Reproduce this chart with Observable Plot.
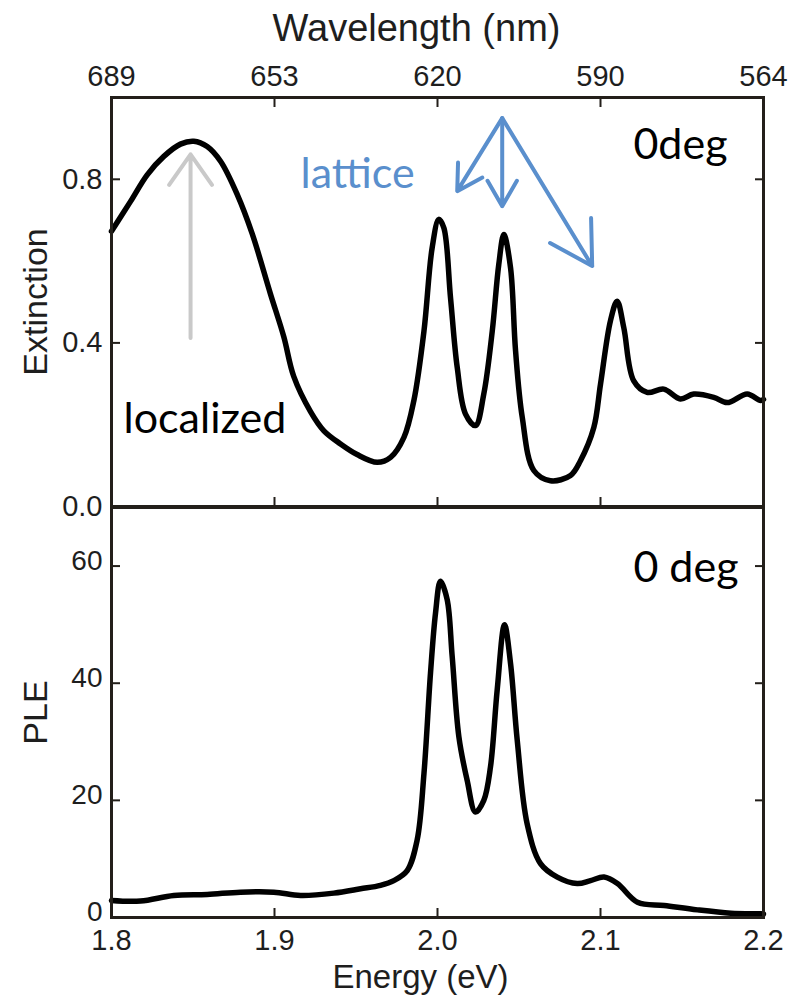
<!DOCTYPE html>
<html>
<head>
<meta charset="utf-8">
<script src="https://cdn.jsdelivr.net/npm/d3@7"></script>
<script src="https://cdn.jsdelivr.net/npm/@observablehq/plot@0.6"></script>
<style>
  html, body { margin: 0; padding: 0; background: #fff; }
  #wrap { position: relative; width: 794px; height: 998px; overflow: hidden; }
  #wrap svg { position: absolute; left: 0; overflow: visible; background: transparent; }
</style>
</head>
<body>
<div id="wrap"></div>
<script>
// ---------- data ----------
const energyTicks = [1.8, 1.9, 2.0, 2.1, 2.2];
const wavelengthLabels = ["689", "653", "620", "590", "564"];
const extinctionTicks = [0, 0.4, 0.8];
const pleTicks = [0, 20, 40, 60];

const extEnergy = [1.800, 1.8117, 1.8219, 1.8321, 1.8423, 1.8505, 1.8587, 1.8669, 1.8771, 1.8863, 1.8975, 1.9057, 1.9118, 1.9221, 1.9303, 1.9405, 1.9507, 1.963, 1.9712, 1.9794, 1.9855, 1.9917, 1.9967, 2.0008, 2.0039, 2.008, 2.0121, 2.0172, 2.0233, 2.0284, 2.0336, 2.0376, 2.0407, 2.0448, 2.0479, 2.052, 2.0591, 2.0693, 2.0816, 2.0877, 2.0959, 2.1, 2.1061, 2.1102, 2.1143, 2.1204, 2.1286, 2.1388, 2.149, 2.1572, 2.1695, 2.1777, 2.19, 2.1982, 2.2];
const extValue = [0.673, 0.746, 0.811, 0.856, 0.886, 0.893, 0.880, 0.844, 0.763, 0.667, 0.52, 0.415, 0.318, 0.232, 0.185, 0.153, 0.127, 0.108, 0.120, 0.169, 0.259, 0.429, 0.632, 0.702, 0.681, 0.51, 0.34, 0.226, 0.198, 0.275, 0.429, 0.592, 0.665, 0.584, 0.380, 0.218, 0.088, 0.063, 0.076, 0.112, 0.193, 0.299, 0.454, 0.502, 0.437, 0.307, 0.279, 0.287, 0.263, 0.275, 0.267, 0.254, 0.275, 0.259, 0.262];

const pleEnergy = [1.800, 1.8178, 1.8382, 1.8587, 1.8791, 1.8996, 1.916, 1.9364, 1.9528, 1.965, 1.9732, 1.9814, 1.9875, 1.9917, 1.9957, 1.9988, 2.0018, 2.0059, 2.009, 2.0131, 2.0182, 2.0233, 2.0284, 2.0325, 2.0366, 2.0411, 2.0448, 2.0489, 2.055, 2.0632, 2.0735, 2.0857, 2.0939, 2.1022, 2.1104, 2.1227, 2.1391, 2.1595, 2.18, 2.1984, 2.2];
const pleValue = [2.9, 2.8, 3.77, 3.94, 4.33, 4.33, 3.77, 4.16, 4.9, 5.5, 6.3, 8.0, 13.2, 24.6, 41.7, 52.0, 57.4, 54.3, 44.6, 30.9, 23.4, 18.0, 20.0, 25.7, 38.8, 50.0, 43.4, 30.3, 16.0, 9.2, 6.9, 5.8, 6.3, 6.9, 5.8, 2.6, 2.05, 1.3, 0.74, 0.63, 0.6];

// annotations (data coordinates, text baseline)
const topLabels = [
  {x: 2.1202, y: 0.849, text: "0deg", color: "#000"},
  {x: 1.8074, y: 0.180, text: "localized", color: "#000"},
  {x: 1.9160, y: 0.778, text: "lattice", color: "#5a8fcd"}
];
const bottomLabels = [{x: 2.1202, y: 57.3, text: "0 deg"}];
const grayArrow = [{x1: 1.8485, y1: 0.412, x2: 1.8485, y2: 0.861}];
const blueArrows = [
  {x1: 2.0397, y1: 0.9495, x2: 2.0121, y2: 0.771},
  {x1: 2.0397, y1: 0.9495, x2: 2.0397, y2: 0.734},
  {x1: 2.0397, y1: 0.9495, x2: 2.0949, y2: 0.588}
];

const extData = extEnergy.map((e, i) => ({e, v: extValue[i]}));
const pleData = pleEnergy.map((e, i) => ({e, v: pleValue[i]}));

const tickFont = "'Liberation Sans', Arial, Helvetica, sans-serif";
const annFont = "Lato, 'Open Sans', sans-serif";
const frameColor = "#231f1a";
const textColor = "#1e1e1e";
const wlFormat = d => wavelengthLabels[energyTicks.findIndex(t => Math.abs(t - d) < 1e-9)];

const W = 794, ML = 111, MR = 31;

const topPlot = Plot.plot({
  width: W, height: 506,
  marginTop: 97, marginBottom: 0, marginLeft: ML, marginRight: MR,
  x: {domain: [1.8, 2.2]},
  y: {domain: [0, 1]},
  style: {fontFamily: tickFont, background: "transparent", overflow: "visible"},
  marks: [
    Plot.axisX({anchor: "top", ticks: energyTicks, tickSize: 0, tickPadding: 12, tickFormat: wlFormat, fontSize: 29, label: null, fill: textColor}),
    Plot.axisX({anchor: "top", ticks: energyTicks, tickSize: -9, text: null, label: null, stroke: frameColor, strokeWidth: 2}),
    Plot.axisX({anchor: "bottom", ticks: energyTicks, tickSize: -9, text: null, label: null, stroke: frameColor, strokeWidth: 2}),
    Plot.axisY({anchor: "left", ticks: extinctionTicks, tickSize: 0, tickPadding: 9, tickFormat: ".1f", fontSize: 29, label: null, fill: textColor}),
    Plot.axisY({anchor: "left", ticks: extinctionTicks, tickSize: -9, text: null, label: null, stroke: frameColor, strokeWidth: 2}),
    Plot.axisY({anchor: "right", ticks: extinctionTicks, tickSize: -9, text: null, label: null, stroke: frameColor, strokeWidth: 2}),
    Plot.text(["Wavelength (nm)"], {frameAnchor: "top", dx: -21, dy: -57, fontSize: 38, fill: textColor, lineAnchor: "bottom"}),
    Plot.text(["Extinction"], {frameAnchor: "left", dx: -75, rotate: -90, fontSize: 34, fill: textColor, textAnchor: "middle", lineAnchor: "middle"}),
    Plot.arrow(grayArrow, {x1: "x1", y1: "y1", x2: "x2", y2: "y2", stroke: "#c9c9c9", strokeWidth: 4, headLength: 14, headAngle: 70}),
    Plot.arrow(blueArrows, {x1: "x1", y1: "y1", x2: "x2", y2: "y2", stroke: "#5a8fcd", strokeWidth: 4, headLength: 18}),
    Plot.line(extData, {x: "e", y: "v", stroke: "#000", strokeWidth: 5.5, strokeLinejoin: "round", curve: "catmull-rom"}),
    Plot.text(topLabels, {x: "x", y: "y", text: "text", fill: "color", textAnchor: "start", lineAnchor: "bottom", fontSize: 43, fontFamily: annFont}),
    Plot.frame({stroke: frameColor, strokeWidth: 3})
  ]
});

const botPlot = Plot.plot({
  width: W, height: 491,
  marginTop: 0, marginBottom: 491 - 410, marginLeft: ML, marginRight: MR,
  x: {domain: [1.8, 2.2]},
  y: {domain: [0, 70]},
  style: {fontFamily: tickFont, background: "transparent", overflow: "visible"},
  marks: [
    Plot.axisX({anchor: "bottom", ticks: energyTicks, tickSize: 0, tickPadding: 12, tickFormat: ".1f", fontSize: 29, label: null, fill: textColor}),
    Plot.axisX({anchor: "bottom", ticks: energyTicks, tickSize: -9, text: null, label: null, stroke: frameColor, strokeWidth: 2}),
    Plot.axisY({anchor: "left", ticks: pleTicks, tickSize: 0, tickPadding: 9, fontSize: 28, dy: -5, label: null, fill: textColor}),
    Plot.axisY({anchor: "left", ticks: pleTicks, tickSize: -9, text: null, label: null, stroke: frameColor, strokeWidth: 2}),
    Plot.axisY({anchor: "right", ticks: pleTicks, tickSize: -9, text: null, label: null, stroke: frameColor, strokeWidth: 2}),
    Plot.text(["Energy (eV)"], {frameAnchor: "bottom", dx: -17, dy: 70, fontSize: 33, fill: textColor, lineAnchor: "bottom"}),
    Plot.text(["PLE"], {frameAnchor: "left", dx: -75, rotate: -90, fontSize: 34, fill: textColor, textAnchor: "middle", lineAnchor: "middle"}),
    Plot.line(pleData, {x: "e", y: "v", stroke: "#000", strokeWidth: 5.5, strokeLinejoin: "round", curve: "catmull-rom"}),
    Plot.text(bottomLabels, {x: "x", y: "y", text: "text", fill: "#000", textAnchor: "start", lineAnchor: "bottom", fontSize: 43, fontFamily: annFont}),
    Plot.frame({stroke: frameColor, strokeWidth: 3})
  ]
});

const wrap = document.getElementById("wrap");
topPlot.style.top = "0px";
botPlot.style.top = "507px";
wrap.appendChild(topPlot);
wrap.appendChild(botPlot);
</script>
</body>
</html>
